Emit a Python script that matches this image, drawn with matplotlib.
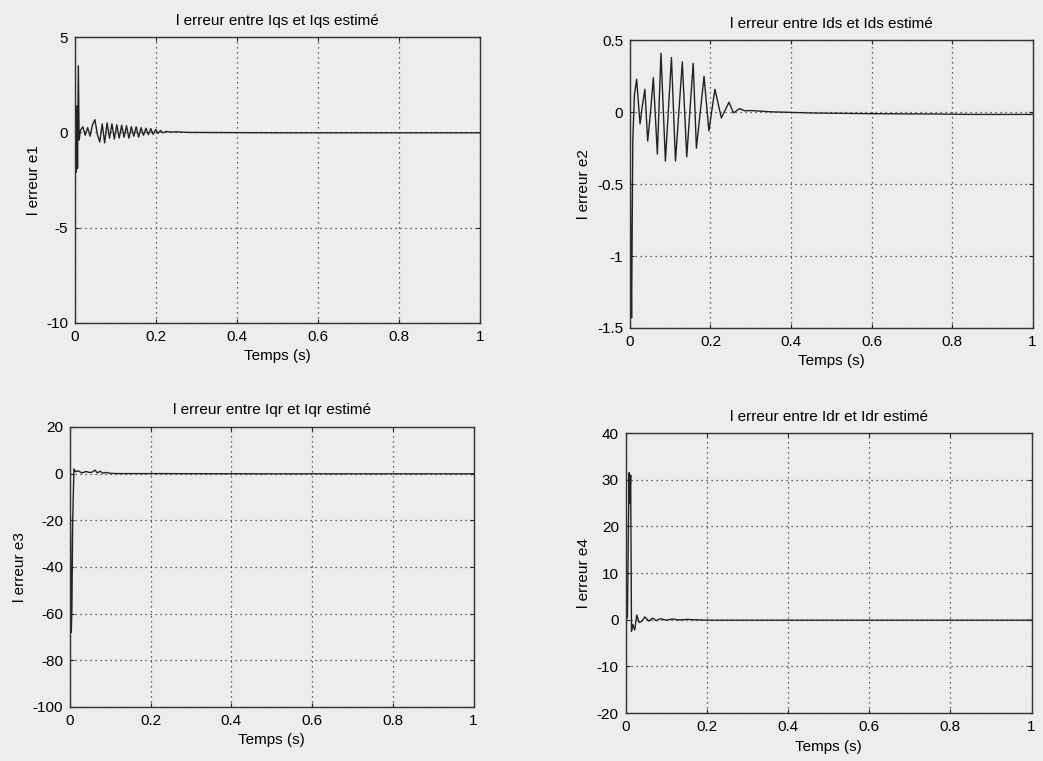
import numpy as np
import matplotlib.pyplot as plt

plt.rcParams['font.family'] = ['Liberation Sans', 'DejaVu Sans']
plt.rcParams['axes.unicode_minus'] = False

# l erreur e1 (Iqs)
t1 = [0.000, 0.002, 0.004, 0.006, 0.008, 0.010, 0.013,
      0.019, 0.025, 0.031, 0.037, 0.043, 0.049, 0.055, 0.061, 0.067, 0.073, 0.079, 0.085,
      0.091, 0.097, 0.103, 0.109, 0.115, 0.121, 0.127, 0.133, 0.139, 0.145, 0.151, 0.157,
      0.163, 0.169, 0.175, 0.181, 0.187, 0.193, 0.199, 0.205, 0.211, 0.217, 0.225, 0.235,
      0.250, 0.280, 0.370, 0.500, 0.700, 1.000]
e1 = [0.0, -2.1, 1.4, -1.9, 3.5, -0.4, 0.1,
      0.3, -0.15, 0.25, -0.2, 0.4, 0.67, -0.1, -0.5, 0.45, -0.55, 0.5, -0.3,
      0.45, -0.35, 0.4, -0.3, 0.38, -0.25, 0.35, -0.3, 0.3, -0.2, 0.3, -0.25,
      0.25, -0.15, 0.22, -0.12, 0.2, -0.1, 0.15, -0.05, 0.1, -0.02, 0.05, 0.02,
      0.03, 0.0, -0.01, -0.02, -0.02, -0.02]

# l erreur e2 (Ids)
t2 = [0.000, 0.002, 0.004, 0.007, 0.011, 0.0165, 0.020, 0.025, 0.031, 0.037,
      0.044, 0.051, 0.058, 0.068, 0.077, 0.088, 0.103, 0.113, 0.130, 0.141,
      0.157, 0.165, 0.184, 0.196, 0.211, 0.227, 0.246, 0.257, 0.272, 0.285,
      0.300, 0.350, 0.450, 0.600, 0.750, 0.850, 1.000]
e2 = [0.0, -0.9, -1.43, -0.2, 0.12, 0.23, 0.1, -0.08, 0.05, 0.16,
      -0.2, 0.0, 0.24, -0.29, 0.41, -0.34, 0.38, -0.34, 0.35, -0.31,
      0.34, -0.25, 0.25, -0.13, 0.16, -0.04, 0.07, -0.005, 0.025, 0.01,
      0.012, 0.003, -0.005, -0.01, -0.012, -0.015, -0.015]

# l erreur e3 (Iqr)
t3 = [0.000, 0.002, 0.0035, 0.005, 0.007, 0.010, 0.014, 0.020, 0.030, 0.040, 0.048,
      0.055, 0.062, 0.068, 0.075, 0.082, 0.090, 0.100, 0.120, 0.200, 0.500, 1.000]
e3 = [0.0, -30, -68, -58, -20, 2.0, 0.8, 1.2, 0.3, 0.9, 0.5,
      0.6, 1.5, 0.3, 1.0, 0.2, 0.5, 0.1, 0.0, 0.0, -0.1, -0.1]

# l erreur e4 (Idr)
t4 = [0.000, 0.004, 0.008, 0.010, 0.012, 0.014, 0.017, 0.022, 0.027, 0.033, 0.040, 0.047,
      0.057, 0.066, 0.075, 0.085, 0.100, 0.115, 0.130, 0.150, 0.200, 0.300, 0.600, 1.000]
e4 = [0.0, 0.5, 31.5, 25, 31, -2.5, -1.0, -2.2, 1.0, -0.6, -0.3, 0.6,
      -0.3, 0.35, -0.2, 0.2, -0.1, 0.15, -0.05, 0.05, -0.1, -0.1, -0.1, -0.1]

x_ticks = [0, 0.2, 0.4, 0.6, 0.8, 1]
x_labels = ['0', '0.2', '0.4', '0.6', '0.8', '1']

panels = [
    (t1, e1, 'l erreur entre Iqs et Iqs estimé', 'l erreur e1',
     [-10, -5, 0, 5], ['-10', '-5', '0', '5']),
    (t2, e2, 'l erreur entre Ids et Ids estimé', 'l erreur e2',
     [-1.5, -1, -0.5, 0, 0.5], ['-1.5', '-1', '-0.5', '0', '0.5']),
    (t3, e3, 'l erreur entre Iqr et Iqr estimé', 'l erreur e3',
     [-100, -80, -60, -40, -20, 0, 20], ['-100', '-80', '-60', '-40', '-20', '0', '20']),
    (t4, e4, 'l erreur entre Idr et Idr estimé', 'l erreur e4',
     [-20, -10, 0, 10, 20, 30, 40], ['-20', '-10', '0', '10', '20', '30', '40']),
]

boxes = [
    [0.072, 0.576, 0.388, 0.375],
    [0.604, 0.569, 0.386, 0.378],
    [0.067, 0.071, 0.387, 0.368],
    [0.600, 0.063, 0.389, 0.368],
]

bg = '#ededed'
fig = plt.figure(figsize=(10.43, 7.61), dpi=100, facecolor=bg)

for (t, e, title, ylab, yt, ytl), box in zip(panels, boxes):
    ax = fig.add_axes(box, facecolor=bg)
    ax.plot(t, e, color='#222222', lw=1.0)
    ax.set_xlim(0, 1)
    ax.set_ylim(yt[0], yt[-1])
    ax.set_xticks(x_ticks)
    ax.set_xticklabels(x_labels)
    ax.set_yticks(yt)
    ax.set_yticklabels(ytl)
    ax.grid(True, color='#333333', linestyle=(0, (1, 3)), lw=0.9)
    ax.tick_params(direction='in', length=3, labelsize=11, top=True, right=True,
                   colors='#222222', labelcolor='black', pad=5)
    for s in ax.spines.values():
        s.set_color('#333333')
        s.set_linewidth(1.0)
    ax.set_title(title, fontsize=11, pad=9)
    ax.set_xlabel('Temps (s)', fontsize=11, labelpad=4)
    ax.set_ylabel(ylab, fontsize=11, labelpad=4)

fig.savefig('out.png', dpi=100, facecolor=bg)
